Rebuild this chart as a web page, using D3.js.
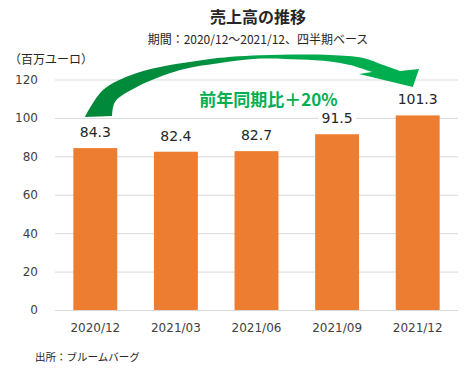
<!DOCTYPE html>
<html>
<head>
<meta charset="UTF-8">
<title>売上高の推移</title>
<script src="https://d3js.org/d3.v7.min.js"></script>
<style>
  body { margin: 0; background: #fff; }
  text { font-family: "DejaVu Sans", "Noto Sans CJK JP", sans-serif; }
  .jp { font-family: "Noto Sans CJK JP", sans-serif; }
</style>
</head>
<body>
<div id="chart"></div>
<script>

// data
var quarters = ["2020/12", "2021/03", "2021/06", "2021/09", "2021/12"];
var sales = [84.3, 82.4, 82.7, 91.5, 101.3];
var yTicks = [0, 20, 40, 60, 80, 100, 120];

var title = "売上高の推移";
var subtitle = "期間：2020/12～2021/12、四半期ベース";
var unitLabel = "（百万ユーロ）";
var source = "出所：ブルームバーグ";
var growthLabel = "前年同期比＋20%";

// arrow outline: [t along first->last bar centre, value on y scale]
var arrowOuter = [[-0.032, 100.5], [0.024, 114.5], [0.129, 123.4], [0.334, 130.2],
                  [0.511, 132.6], [0.728, 132.8], [0.831, 131.2], [0.893, 127.5], [0.945, 124.4]];
var arrowHead = [[1.004, 125.5], [0.985, 116.1], [0.818, 122.9]];
var arrowInner = [[0.858, 123.9], [0.790, 127.5], [0.728, 129.4], [0.635, 130.4],
                  [0.511, 130.9], [0.387, 128.6], [0.263, 124.9], [0.129, 116.1],
                  [0.061, 108.3], [0.052, 101.0]];

var W = 469, H = 373;
var margin = {top: 79.5, right: 11, bottom: 63, left: 55},
    width = W - margin.left - margin.right,
    height = H - margin.top - margin.bottom;

var svg = d3.select("#chart").append("svg")
    .attr("width", W)
    .attr("height", H);

var g = svg.append("g")
    .attr("transform", "translate(" + margin.left + "," + margin.top + ")");

var x = d3.scaleBand().domain(quarters).range([0, width])
    .paddingInner(0.455).paddingOuter(0.2275);
var y = d3.scaleLinear().domain([0, 120]).range([height, 0]);

// grid + y labels
var yAxis = g.append("g")
    .call(d3.axisLeft(y).tickValues(yTicks).tickSizeInner(-width).tickSizeOuter(0).tickPadding(17));
yAxis.select(".domain").remove();
yAxis.selectAll("line").attr("stroke", "#d9d9d9");
yAxis.selectAll("text").attr("font-size", 12).attr("fill", "#404040");

// x labels
var xAxis = g.append("g")
    .attr("transform", "translate(0," + height + ")")
    .call(d3.axisBottom(x).tickSize(0).tickPadding(13));
xAxis.select(".domain").remove();
xAxis.selectAll("text").attr("font-size", 12).attr("fill", "#404040");

// bars
g.selectAll(".bar").data(sales).enter().append("rect")
    .attr("class", "bar")
    .attr("x", function(d, i) { return x(quarters[i]); })
    .attr("y", function(d) { return y(d); })
    .attr("width", x.bandwidth())
    .attr("height", function(d) { return height - y(d); })
    .attr("fill", "#ed7d31");

// value labels with white background
var lab = g.selectAll(".vlab").data(sales).enter().append("g")
    .attr("class", "vlab")
    .attr("transform", function(d, i) {
      return "translate(" + (x(quarters[i]) + x.bandwidth() / 2) + "," + (y(d) - 16) + ")";
    });
lab.append("rect")
    .attr("x", -19).attr("y", -9).attr("width", 38).attr("height", 18)
    .attr("fill", "#fff");
lab.append("text")
    .attr("text-anchor", "middle")
    .attr("dy", "0.36em")
    .attr("font-size", 14)
    .attr("fill", "#262626")
    .text(function(d) { return d.toFixed(1); });

// growth arrow
var xA = x(quarters[0]) + x.bandwidth() / 2,
    xB = x(quarters[quarters.length - 1]) + x.bandwidth() / 2;
function px(p) { return [xA + p[0] * (xB - xA), y(p[1])]; }
var curve = d3.line().curve(d3.curveCatmullRom.alpha(0.5));
var d = curve(arrowOuter.map(px))
    + arrowHead.map(function(p) { return "L" + px(p).join(","); }).join("")
    + curve(arrowInner.map(px)).replace(/^M/, "L") + "Z";

var defs = svg.append("defs");
var grad = defs.append("linearGradient").attr("id", "gGreen")
    .attr("x1", "0%").attr("x2", "100%").attr("y1", "0%").attr("y2", "0%");
grad.append("stop").attr("offset", "0%").attr("stop-color", "#00873a");
grad.append("stop").attr("offset", "35%").attr("stop-color", "#008f3f");
grad.append("stop").attr("offset", "55%").attr("stop-color", "#00a84c");
grad.append("stop").attr("offset", "100%").attr("stop-color", "#00b050");

g.append("path").attr("d", d).attr("fill", "url(#gGreen)");

// growth label
var gx = (x(quarters[2]) + x.bandwidth() / 2) + 10, gy = y(109.5);
g.append("rect")
    .attr("x", gx - 78).attr("y", gy - 12).attr("width", 156).attr("height", 24)
    .attr("fill", "#fff");
g.append("text")
    .attr("class", "jp")
    .attr("x", gx + 2).attr("y", gy)
    .attr("dy", "0.36em")
    .attr("text-anchor", "middle")
    .attr("font-size", 17)
    .attr("font-weight", "bold")
    .attr("fill", "#00b050")
    .text(growthLabel);

// titles
svg.append("text").attr("class", "jp")
    .attr("x", 258).attr("y", 23)
    .attr("text-anchor", "middle")
    .attr("font-size", 16).attr("font-weight", "bold")
    .attr("fill", "#262626")
    .text(title);
svg.append("text").attr("class", "jp")
    .attr("x", 258).attr("y", 44)
    .attr("text-anchor", "middle")
    .attr("font-size", 12)
    .attr("fill", "#262626")
    .text(subtitle);
svg.append("text").attr("class", "jp")
    .attr("x", 9).attr("y", 64)
    .attr("font-size", 12)
    .attr("fill", "#262626")
    .text(unitLabel);
svg.append("text").attr("class", "jp")
    .attr("x", 35).attr("y", 361)
    .attr("font-size", 10.5)
    .attr("fill", "#262626")
    .text(source);

</script>
</body>
</html>
